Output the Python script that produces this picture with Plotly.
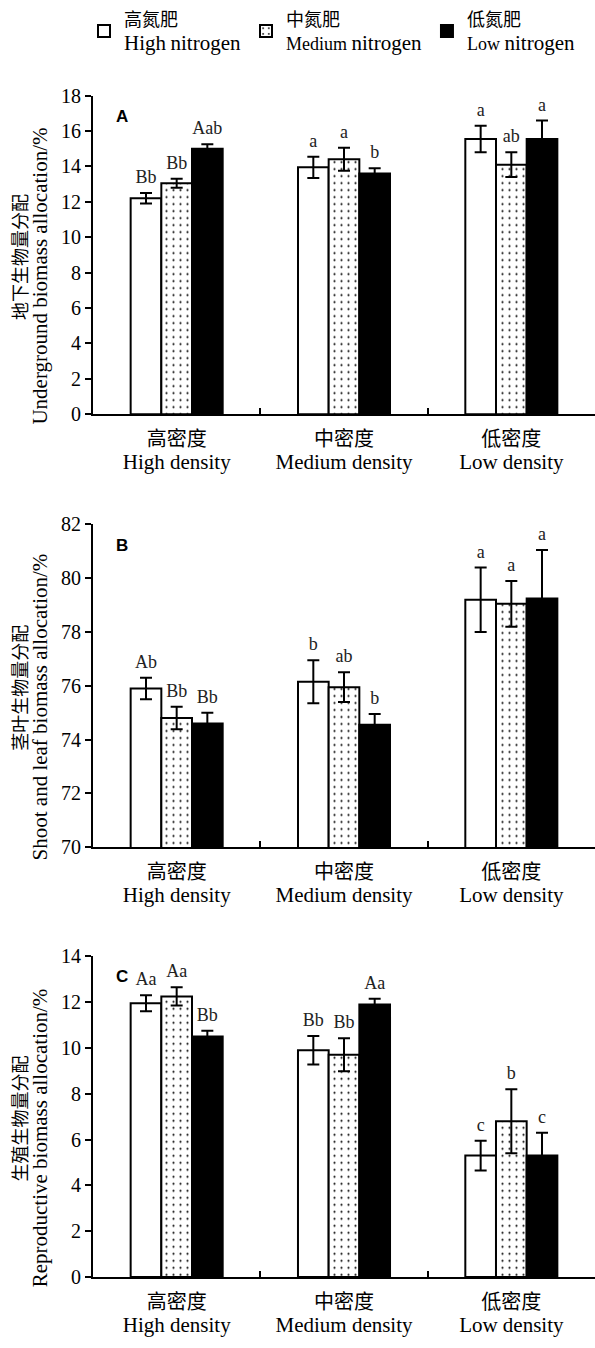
import plotly.graph_objects as go

# ---------------- data ----------------
densities_cn = ["高密度", "中密度", "低密度"]
densities_en = ["High density", "Medium density", "Low density"]
series_cn = ["高氮肥", "中氮肥", "低氮肥"]
series_en_a = ["High", "Medium", "Low"]
series_en_b = ["nitrogen", "nitrogen", "nitrogen"]

# Panel A: underground biomass allocation (%)
a_high = [12.2, 13.95, 15.55]
a_med = [13.05, 14.4, 14.1]
a_low = [15.0, 13.6, 15.55]
a_high_err = [0.3, 0.6, 0.75]
a_med_err = [0.25, 0.65, 0.7]
a_low_err = [0.25, 0.3, 1.05]
a_high_lab = ["Bb", "a", "a"]
a_med_lab = ["Bb", "a", "ab"]
a_low_lab = ["Aab", "b", "a"]

# Panel B: shoot and leaf biomass allocation (%)
b_high = [75.9, 76.15, 79.2]
b_med = [74.8, 75.95, 79.05]
b_low = [74.6, 74.55, 79.25]
b_high_err = [0.4, 0.8, 1.2]
b_med_err = [0.42, 0.55, 0.85]
b_low_err = [0.4, 0.4, 1.8]
b_high_lab = ["Ab", "b", "a"]
b_med_lab = ["Bb", "ab", "a"]
b_low_lab = ["Bb", "b", "a"]

# Panel C: reproductive biomass allocation (%)
c_high = [11.95, 9.9, 5.3]
c_med = [12.25, 9.7, 6.8]
c_low = [10.5, 11.9, 5.3]
c_high_err = [0.35, 0.62, 0.65]
c_med_err = [0.4, 0.72, 1.4]
c_low_err = [0.25, 0.25, 1.0]
c_high_lab = ["Aa", "Bb", "c"]
c_med_lab = ["Aa", "Bb", "b"]
c_low_lab = ["Bb", "Aa", "c"]

a_ticks = [0, 2, 4, 6, 8, 10, 12, 14, 16, 18]
b_ticks = [70, 72, 74, 76, 78, 80, 82]
c_ticks = [0, 2, 4, 6, 8, 10, 12, 14]

panels = [
    dict(name="A", vals=[a_high, a_med, a_low], errs=[a_high_err, a_med_err, a_low_err],
         labs=[a_high_lab, a_med_lab, a_low_lab], ticks=a_ticks,
         ycn="地下生物量分配", yen="Underground biomass allocation/%"),
    dict(name="B", vals=[b_high, b_med, b_low], errs=[b_high_err, b_med_err, b_low_err],
         labs=[b_high_lab, b_med_lab, b_low_lab], ticks=b_ticks,
         ycn="茎叶生物量分配", yen="Shoot and leaf biomass allocation/%"),
    dict(name="C", vals=[c_high, c_med, c_low], errs=[c_high_err, c_med_err, c_low_err],
         labs=[c_high_lab, c_med_lab, c_low_lab], ticks=c_ticks,
         ycn="生殖生物量分配", yen="Reproductive biomass allocation/%"),
]

# ---------------- layout geometry (pixels) ----------------
W, H = 595, 1348
plot_left = 93
panel_px = [(86, 410), (522, 850), (961, 1287)]  # top, bottom of each plot area


def fx(px):
    return px / W


def fy(py):
    return 1 - py / H


SERIF = "Liberation Serif"
CJK = "Noto Sans CJK SC"


def cjk(s, size):
    return f"<span style='font-family:{CJK};font-size:{size}px'>{s}</span>"


def sz(s, size):
    return f"<span style='font-size:{size}px'>{s}</span>"


styles = [
    dict(color="white", pattern=None),
    dict(color="white", pattern=dict(shape=".", fgcolor="black", bgcolor="white",
                                     size=7, solidity=0.07, fillmode="replace")),
    dict(color="black", pattern=None),
]

fig = go.Figure()
x_idx = [0, 1, 2]

for pi, p in enumerate(panels):
    xa = "x" if pi == 0 else f"x{pi + 1}"
    ya = "y" if pi == 0 else f"y{pi + 1}"
    for si in range(3):
        st = styles[si]
        marker = dict(color=st["color"], line=dict(color="black", width=2))
        if st["pattern"] is not None:
            marker["pattern"] = st["pattern"]
        first_size = 21 if si == 0 else 18
        legend_name = (cjk(series_cn[si], 18) + "<br>" + sz(series_en_a[si], first_size)
                       + " " + sz(series_en_b[si], 21))
        fig.add_trace(go.Bar(
            x=x_idx, y=p["vals"][si], xaxis=xa, yaxis=ya,
            name=legend_name, legendgroup=f"s{si}", showlegend=(pi == 0),
            offsetgroup=str(si), marker=marker,
            error_y=dict(type="data", array=p["errs"][si], visible=True,
                         color="black", thickness=2, width=6),
        ))
        tops = [v + e for v, e in zip(p["vals"][si], p["errs"][si])]
        fig.add_trace(go.Scatter(
            x=x_idx, y=tops, xaxis=xa, yaxis=ya, mode="markers+text",
            marker=dict(size=7, color="rgba(0,0,0,0)"),
            text=p["labs"][si], textposition="top center",
            textfont=dict(family=SERIF, size=18, color="#222"),
            offsetgroup=str(si), showlegend=False, hoverinfo="skip", cliponaxis=False,
        ))

layout = dict(
    width=W, height=H,
    margin=dict(l=0, r=0, t=0, b=0),
    paper_bgcolor="white", plot_bgcolor="white",
    barmode="group", bargap=0.45, bargroupgap=0,
    scattermode="group", scattergap=0.45,
    font=dict(family=SERIF, size=20, color="black"),
    showlegend=True,
    legend=dict(orientation="h", x=fx(84), y=fy(-10), xanchor="left", yanchor="top",
                font=dict(family=SERIF, size=18, color="black"),
                itemwidth=30, tracegroupgap=0, bgcolor="rgba(0,0,0,0)"),
)

tick_text = [f"{cjk(c, 20)}<br>{sz(e, 21)}" for c, e in zip(densities_cn, densities_en)]
annotations = []
for pi, p in enumerate(panels):
    top, bot = panel_px[pi]
    xk = "xaxis" if pi == 0 else f"xaxis{pi + 1}"
    yk = "yaxis" if pi == 0 else f"yaxis{pi + 1}"
    anchor_x = "x" if pi == 0 else f"x{pi + 1}"
    anchor_y = "y" if pi == 0 else f"y{pi + 1}"
    layout[xk] = dict(
        domain=[fx(plot_left), 1.0], anchor=anchor_y, range=[-0.5, 2.5],
        tickvals=x_idx, ticktext=tick_text, ticks="", showgrid=False, zeroline=False,
        showline=True, linecolor="black", linewidth=2,
        tickfont=dict(family=SERIF, size=18, color="black"),
        ticklabelstandoff=8,
        minor=dict(tickvals=[0.5, 1.5], ticks="inside", ticklen=6, tickwidth=2,
                   tickcolor="black", showgrid=False),
    )
    layout[yk] = dict(
        domain=[fy(bot), fy(top)], anchor=anchor_x,
        range=[p["ticks"][0], p["ticks"][-1]], tickvals=p["ticks"],
        ticks="outside", ticklen=6, tickwidth=2, tickcolor="black",
        showline=True, linecolor="black", linewidth=2, showgrid=False, zeroline=False,
        tickfont=dict(family=SERIF, size=20, color="black"),
    )
    mid = (top + bot) / 2
    annotations.append(dict(xref="paper", yref="paper", x=fx(19), y=fy(mid + 2),
                            text=p["ycn"], textangle=-90, showarrow=False,
                            xanchor="center", yanchor="middle",
                            font=dict(family=CJK, size=18, color="black")))
    annotations.append(dict(xref="paper", yref="paper", x=fx(40), y=fy(mid + 22),
                            text=p["yen"], textangle=-90, showarrow=False,
                            xanchor="center", yanchor="middle",
                            font=dict(family=SERIF, size=21, color="black")))
    annotations.append(dict(xref="paper", yref="paper", x=fx(114), y=fy(top + 21),
                            text="<b>" + p["name"] + "</b>", showarrow=False,
                            xanchor="left", yanchor="middle",
                            font=dict(family="Liberation Sans", size=17, color="black")))

layout["annotations"] = annotations
fig.update_layout(**layout)
fig.write_html("out.html", config={"displayModeBar": False},
               post_script="document.body.style.margin='0';")
